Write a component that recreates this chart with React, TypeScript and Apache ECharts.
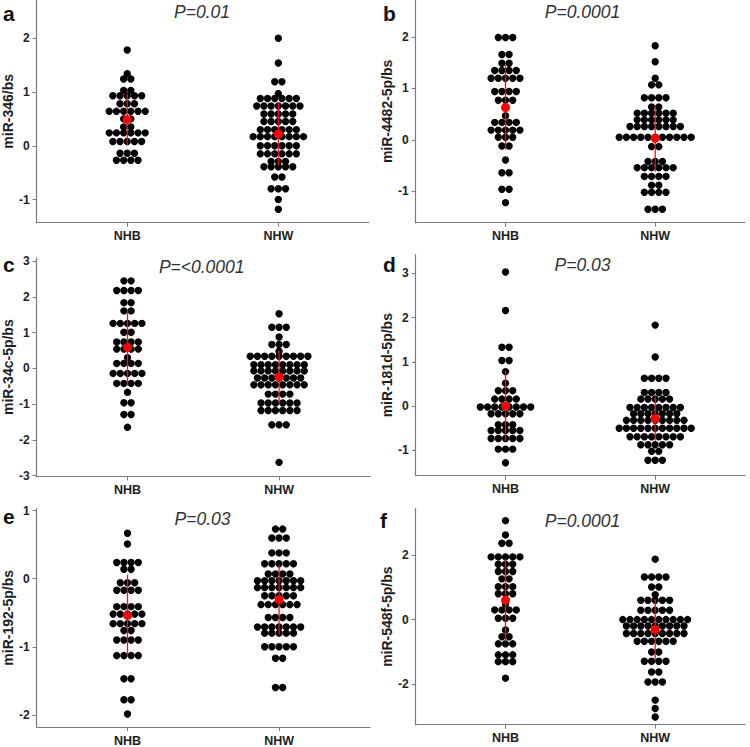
import React, { useEffect, useRef } from "react";
import * as echarts from "echarts";

// ---------- data ----------
const CATEGORIES = ["NHB", "NHW"];

// rows of the binned dot plots: [value, number of dots in the row]
const aNHB: [number, number][] = [[1.78,1],[1.34,1],[1.24,2],[1.03,2],[0.93,5],[0.78,3],[0.64,6],[0.50,2],[0.35,2],[0.24,6],[0.08,5],[-0.14,3],[-0.27,4]];
const aNHW: [number, number][] = [[2.0,1],[1.54,1],[1.19,2],[0.97,1],[0.88,6],[0.74,7],[0.59,5],[0.45,5],[0.30,6],[0.17,8],[0.0,6],[-0.15,6],[-0.29,3],[-0.39,5],[-0.58,2],[-0.80,3],[-1.0,1],[-1.18,1]];

const bNHB: [number, number][] = [[1.99,3],[1.66,2],[1.49,2],[1.35,4],[1.20,5],[0.94,4],[0.77,3],[0.47,1],[0.34,4],[0.19,5],[0.05,3],[-0.12,2],[-0.39,1],[-0.64,2],[-0.96,2],[-1.22,1]];
const bNHW: [number, number][] = [[1.83,1],[1.52,1],[1.20,1],[1.07,2],[0.82,4],[0.64,2],[0.52,6],[0.39,6],[0.26,8],[0.05,11],[-0.13,2],[-0.42,3],[-0.54,6],[-0.71,4],[-0.88,2],[-1.02,4],[-1.35,3]];

const cNHB: [number, number][] = [[2.45,2],[2.18,4],[1.84,2],[1.61,2],[1.26,5],[1.01,2],[0.74,4],[0.54,4],[0.30,1],[0.14,4],[-0.14,5],[-0.42,4],[-0.67,1],[-0.96,2],[-1.29,2],[-1.65,1]];
const cNHW: [number, number][] = [[1.53,1],[1.15,3],[0.88,1],[0.67,3],[0.48,1],[0.34,9],[0.10,8],[-0.07,8],[-0.27,7],[-0.46,8],[-0.72,4],[-0.97,6],[-1.18,6],[-1.58,3],[-2.63,1]];

const dNHB: [number, number][] = [[3.03,1],[2.16,1],[1.33,2],[1.03,2],[0.78,1],[0.52,1],[0.35,3],[0.16,4],[-0.02,8],[-0.17,5],[-0.42,3],[-0.55,5],[-0.73,5],[-0.97,3],[-1.28,1]];
const dNHW: [number, number][] = [[1.83,1],[1.11,1],[0.63,4],[0.31,4],[0.16,5],[-0.03,8],[-0.17,7],[-0.32,9],[-0.50,11],[-0.69,8],[-0.87,5],[-1.02,2],[-1.22,3]];

const eNHB: [number, number][] = [[0.67,1],[0.51,1],[0.24,4],[0.14,2],[-0.06,3],[-0.17,4],[-0.41,4],[-0.52,5],[-0.66,5],[-0.76,2],[-0.90,4],[-1.13,4],[-1.47,2],[-1.78,2],[-1.99,1]];
const eNHW: [number, number][] = [[0.73,2],[0.60,3],[0.38,3],[0.22,5],[0.07,4],[-0.03,7],[-0.13,7],[-0.25,5],[-0.38,6],[-0.57,4],[-0.71,7],[-0.80,5],[-1.0,5],[-1.17,2],[-1.60,2]];

const fNHB: [number, number][] = [[3.06,1],[2.62,1],[2.36,2],[1.94,5],[1.71,3],[1.49,3],[1.26,2],[1.02,3],[0.80,3],[0.48,1],[0.30,4],[0.04,3],[-0.32,1],[-0.53,2],[-0.75,3],[-1.09,3],[-1.30,3],[-1.81,1]];
const fNHW: [number, number][] = [[1.87,1],[1.32,4],[1.01,2],[0.77,1],[0.60,5],[0.29,5],[0.0,10],[-0.20,9],[-0.43,9],[-0.67,6],[-1.0,2],[-1.29,4],[-1.62,2],[-1.93,3],[-2.49,1],[-2.75,1],[-3.01,1]];

// group means and standard deviations [NHB, NHW]
const aMeans = [0.49, 0.22]; const aSDs = [0.48, 0.58];
const bMeans = [0.63, 0.03]; const bSDs = [0.82, 0.65];
const cMeans = [0.59, -0.24]; const cSDs = [1.06, 0.74];
const dMeans = [0.0, -0.28]; const dSDs = [0.80, 0.50];
const eMeans = [-0.54, -0.31]; const eSDs = [0.60, 0.51];
const fMeans = [0.60, -0.31]; const fSDs = [1.28, 0.94];

const PANEL_LETTERS = ["a", "b", "c", "d", "e", "f"];
const P_VALUES = ["P=0.01", "P=0.0001", "P=<0.0001", "P=0.03", "P=0.03", "P=0.0001"];
const Y_TITLES = ["miR-346/bs", "miR-4482-5p/bs", "miR-34c-5p/bs", "miR-181d-5p/bs", "miR-192-5p/bs", "miR-548f-5p/bs"];
const Y_TICKS = [[-1, 0, 1, 2], [-1, 0, 1, 2], [-3, -2, -1, 0, 1, 2, 3], [-1, 0, 1, 2, 3], [-2, -1, 0, 1], [-2, 0, 2]];

const ROWS = [[aNHB, aNHW], [bNHB, bNHW], [cNHB, cNHW], [dNHB, dNHW], [eNHB, eNHW], [fNHB, fNHW]];
const MEANS = [aMeans, bMeans, cMeans, dMeans, eMeans, fMeans];
const SDS = [aSDs, bSDs, cSDs, dSDs, eSDs, fSDs];

// ---------- layout ----------
const FONT = '"Liberation Sans", Arial, Helvetica, sans-serif';
const AXIS_COLOR = "#7a7a7a";
const TEXT_COLOR = "#1e1e1e";
const DOT_SPACING = 7.2;
const DOT_R = 3.7;

const GRIDS = [
  { left: 35.5, top: 0, width: 333.5, height: 222.7, min: -1.43, max: 2.71, nameGap: 16 },
  { left: 415.7, top: 0, width: 329.3, height: 222.7, min: -1.61, max: 2.72, nameGap: 19 },
  { left: 35.5, top: 258, width: 334.5, height: 218.3, min: -3.02, max: 3.09, nameGap: 16 },
  { left: 415.7, top: 254.7, width: 329.3, height: 221, min: -1.57, max: 3.42, nameGap: 17 },
  { left: 35.5, top: 508.7, width: 334.5, height: 221, min: -2.18, max: 1.03, nameGap: 16 },
  { left: 415.7, top: 508.7, width: 329.3, height: 216, min: -3.25, max: 3.43, nameGap: 17 },
];

const LETTER_POS = [[3, 13], [383, 13], [3, 264.5], [383, 264.3], [3, 516.7], [380, 520]];
const P_POS = [[202, 12.3], [582.5, 12.3], [201.7, 267], [582.5, 265.3], [202.5, 519.3], [582.5, 521]];

function buildOption() {
  const grid: any[] = [];
  const xAxis: any[] = [];
  const yAxis: any[] = [];
  const series: any[] = [];
  const graphic: any[] = [];

  GRIDS.forEach((g, i) => {
    grid.push({ left: g.left, top: g.top, width: g.width, height: g.height, containLabel: false });
    xAxis.push({
      gridIndex: i,
      type: "value",
      min: 0.4,
      max: 2.6,
      axisLine: { show: true, onZero: false, lineStyle: { color: AXIS_COLOR, width: 1.2 } },
      axisTick: { show: true, length: 4, customValues: [1, 2], lineStyle: { color: AXIS_COLOR, width: 1 } },
      axisLabel: {
        show: true,
        customValues: [1, 2],
        formatter: (v: number) => CATEGORIES[Math.round(v) - 1] ?? "",
        margin: 7,
        fontWeight: "bold",
        fontSize: 12.5,
        color: TEXT_COLOR,
        fontFamily: FONT,
      },
      splitLine: { show: false },
    });
    yAxis.push({
      gridIndex: i,
      type: "value",
      min: g.min,
      max: g.max,
      name: Y_TITLES[i],
      nameLocation: "middle",
      nameGap: g.nameGap,
      nameTextStyle: { fontWeight: "bold", fontSize: 14, color: TEXT_COLOR, fontFamily: FONT },
      axisLine: { show: true, onZero: false, lineStyle: { color: AXIS_COLOR, width: 1.2 } },
      axisTick: { show: true, length: 4, customValues: Y_TICKS[i], lineStyle: { color: AXIS_COLOR, width: 1 } },
      axisLabel: {
        show: true,
        customValues: Y_TICKS[i],
        formatter: (v: number) => String(v),
        margin: 7,
        fontWeight: "bold",
        fontSize: 12,
        color: TEXT_COLOR,
        fontFamily: FONT,
      },
      splitLine: { show: false },
    });

    // dot rows
    const dotData: number[][] = [];
    ROWS[i].forEach((rows, gi) => {
      rows.forEach(([v, n]) => dotData.push([gi + 1, v, n]));
    });
    series.push({
      type: "custom",
      xAxisIndex: i,
      yAxisIndex: i,
      coordinateSystem: "cartesian2d",
      z: 2,
      encode: { x: 0, y: 1 },
      data: dotData,
      renderItem: (_params: any, api: any) => {
        const c = api.coord([api.value(0), api.value(1)]);
        const n = api.value(2);
        const children: any[] = [];
        for (let k = 0; k < n; k++) {
          children.push({
            type: "circle",
            shape: { cx: c[0] + (k - (n - 1) / 2) * DOT_SPACING, cy: c[1], r: DOT_R },
            style: { fill: "#000000" },
          });
        }
        return { type: "group", children };
      },
    });

    // mean +/- sd
    const statData = MEANS[i].map((m, gi) => [gi + 1, m, SDS[i][gi]]);
    series.push({
      type: "custom",
      xAxisIndex: i,
      yAxisIndex: i,
      coordinateSystem: "cartesian2d",
      z: 5,
      encode: { x: 0, y: 1 },
      data: statData,
      renderItem: (_params: any, api: any) => {
        const x = api.value(0);
        const m = api.value(1);
        const s = api.value(2);
        const top = api.coord([x, m + s]);
        const bot = api.coord([x, m - s]);
        const mid = api.coord([x, m]);
        return {
          type: "group",
          children: [
            { type: "line", z2: 1, shape: { x1: top[0], y1: top[1], x2: bot[0], y2: bot[1] }, style: { stroke: "#ee1111", lineWidth: 1.3 } },
            { type: "circle", z2: 2, shape: { cx: mid[0], cy: mid[1], r: 4.5 }, style: { fill: "#ff0000" } },
          ],
        };
      },
    });

    graphic.push({
      type: "text",
      x: LETTER_POS[i][0],
      y: LETTER_POS[i][1],
      style: {
        text: PANEL_LETTERS[i],
        fontSize: 21,
        fontWeight: "bold",
        fontFamily: FONT,
        fill: "#111111",
        align: "left",
        verticalAlign: "middle",
      },
    });
    graphic.push({
      type: "text",
      x: P_POS[i][0],
      y: P_POS[i][1],
      style: {
        text: P_VALUES[i],
        fontSize: 17.5,
        fontStyle: "italic",
        fontFamily: FONT,
        fill: "#333333",
        align: "center",
        verticalAlign: "middle",
      },
    });
  });

  return {
    animation: false,
    backgroundColor: "#ffffff",
    grid,
    xAxis,
    yAxis,
    series,
    graphic,
  };
}

export default function App() {
  const ref = useRef<HTMLDivElement>(null);
  useEffect(() => {
    if (!ref.current) return;
    const chart = echarts.init(ref.current, null, { renderer: "svg" });
    chart.setOption(buildOption());
    return () => chart.dispose();
  }, []);
  return (
    <div
      ref={ref}
      style={{ position: "absolute", left: 0, top: 0, width: 750, height: 747, background: "#fff" }}
    />
  );
}
